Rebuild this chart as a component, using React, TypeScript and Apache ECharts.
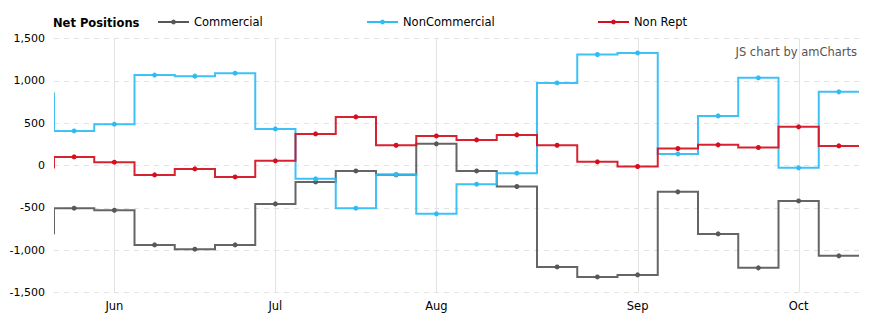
import React, { useEffect, useRef } from "react";
import * as echarts from "echarts";

// Weekly report dates (category axis)
const dates = [
  "2014-05-30", "2014-06-06", "2014-06-13", "2014-06-20", "2014-06-27",
  "2014-07-04", "2014-07-11", "2014-07-18", "2014-07-25", "2014-08-01",
  "2014-08-08", "2014-08-15", "2014-08-22", "2014-08-29", "2014-09-05",
  "2014-09-12", "2014-09-19", "2014-09-26", "2014-10-03", "2014-10-10",
];
const monthNames = ["Jan", "Feb", "Mar", "Apr", "May", "Jun", "Jul", "Aug", "Sep", "Oct", "Nov", "Dec"];

// Net positions
const commercial = [-505, -529, -939, -990, -939, -454, -194, -64, -110, 256, -64, -248, -1200, -1318, -1294, -312, -809, -1211, -419, -1069];
const nonCommercial = [409, 489, 1070, 1057, 1092, 433, -158, -505, -105, -572, -221, -91, 977, 1313, 1332, 137, 587, 1037, -28, 871];
const nonRept = [102, 39, -111, -40, -135, 55, 374, 575, 240, 350, 303, 362, 240, 43, -12, 201, 244, 213, 457, 232];
// value of the week before the first visible one (seen at the left edge)
const prevCommercial = -813;
const prevNonCommercial = 864;
const prevNonRept = -36;

const yTicks = { min: -1500, max: 1500, interval: 500 };

const FONT = "DejaVu Sans";

const monthOf = (d: string) => parseInt(d.slice(5, 7), 10) - 1;
const isMonthStart = (i: number) => i > 0 && monthOf(dates[i]) !== monthOf(dates[i - 1]);
const monthStartIdx = dates.map((_, i) => i).filter(isMonthStart);

const COLORS = {
  commercial: "#585858",
  nonCommercial: "#2fbcf5",
  nonRept: "#d4101f",
};

function stepSeries(name: string, values: number[], prev: number, color: string, z: number) {
  return {
    type: "custom",
    name: name + " step",
    silent: true,
    z,
    clip: true,
    data: values.map((v, i) => [i, v]),
    encode: { x: 0, y: 1 },
    renderItem: (params: any, api: any) => {
      if (params.dataIndex !== 0) return { type: "group", children: [] };
      const bw = api.size([1, 0])[0];
      const pts: number[][] = [];
      let prevY = api.coord([0, prev])[1];
      values.forEach((v, i) => {
        const [x, y] = api.coord([i, v]);
        pts.push([x - bw / 2, prevY]);
        pts.push([x - bw / 2, y]);
        pts.push([x + bw / 2, y]);
        prevY = y;
      });
      return {
        type: "polyline",
        shape: { points: pts },
        style: { stroke: color, lineWidth: 2, fill: null, opacity: 0.92 },
      };
    },
  };
}

function markerSeries(name: string, values: number[], color: string) {
  return {
    type: "line",
    name,
    data: values,
    symbol: "circle",
    symbolSize: 5,
    showSymbol: true,
    itemStyle: { color },
    lineStyle: { color, width: 2, opacity: 0 },
    z: 5,
    silent: true,
  };
}

export default function App() {
  const ref = useRef<HTMLDivElement>(null);
  useEffect(() => {
    if (!ref.current) return;
    const chart = echarts.init(ref.current, undefined, { renderer: "svg" });
    const legendBase = {
      itemWidth: 31,
      itemHeight: 6,
      itemGap: 5,
      padding: 0,
      top: 16,
      textStyle: { fontFamily: FONT, fontSize: 11.5, color: "#000" },
      lineStyle: { width: 2, opacity: 1 },
    };
    chart.setOption({
      animation: false,
      textStyle: { fontFamily: FONT },
      title: {
        text: "Net Positions",
        left: 53,
        top: 17,
        padding: 0,
        textStyle: { fontFamily: FONT, fontSize: 11.5, fontWeight: "bold", color: "#000" },
      },
      legend: [
        { ...legendBase, left: 157, data: ["Commercial"] },
        { ...legendBase, left: 366, data: ["NonCommercial"] },
        { ...legendBase, left: 597, data: ["Non Rept"] },
      ],
      graphic: [
        {
          type: "text",
          right: 16,
          top: 46,
          style: { text: "JS chart by amCharts", fill: "#555", font: `11.5px "${FONT}"` },
        },
      ],
      grid: { left: 54, right: 14, top: 38.7, bottom: 33.7, containLabel: false },
      xAxis: {
        type: "category",
        data: dates,
        boundaryGap: true,
        axisLine: { show: false },
        axisTick: { show: false },
        splitLine: { show: false },
        axisLabel: {
          interval: (i: number) => isMonthStart(i),
          formatter: (v: string) => monthNames[monthOf(v)],
          fontSize: 11.5,
          color: "#000",
          margin: 8,
          fontFamily: FONT,
        },
      },
      yAxis: {
        type: "value",
        min: yTicks.min,
        max: yTicks.max,
        interval: yTicks.interval,
        axisLine: { show: false },
        axisTick: { show: false },
        axisLabel: { fontSize: 11, color: "#000", margin: 9, fontFamily: FONT },
        splitLine: { show: true, lineStyle: { color: "#e2e2e2", type: [5, 5], width: 1 } },
      },
      series: [
        {
          type: "custom",
          name: "month grid",
          silent: true,
          z: 0,
          data: monthStartIdx.map((i) => [i, 0]),
          encode: { x: 0, y: 1 },
          renderItem: (_p: any, api: any) => {
            const i = api.value(0);
            const [x1, y1] = api.coord([i, yTicks.max]);
            const [, y2] = api.coord([i, yTicks.min]);
            return {
              type: "line",
              shape: { x1: Math.round(x1) + 0.5, y1, x2: Math.round(x1) + 0.5, y2 },
              style: { stroke: "#e3e3e3", lineWidth: 1 },
            };
          },
        },
        stepSeries("Commercial", commercial, prevCommercial, COLORS.commercial, 2),
        stepSeries("NonCommercial", nonCommercial, prevNonCommercial, COLORS.nonCommercial, 3),
        stepSeries("Non Rept", nonRept, prevNonRept, COLORS.nonRept, 4),
        markerSeries("Commercial", commercial, COLORS.commercial),
        markerSeries("NonCommercial", nonCommercial, COLORS.nonCommercial),
        markerSeries("Non Rept", nonRept, COLORS.nonRept),
      ],
    });
    return () => chart.dispose();
  }, []);
  return (
    <div
      ref={ref}
      style={{ position: "fixed", left: 0, top: 0, width: 873, height: 326, background: "#fff" }}
    />
  );
}
